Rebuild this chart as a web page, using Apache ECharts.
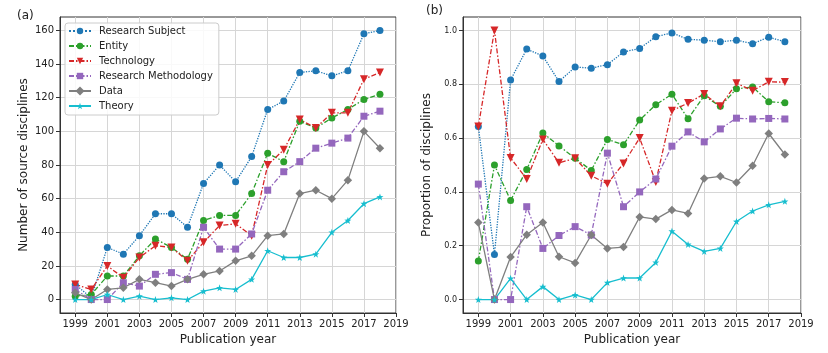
<!DOCTYPE html>
<html>
<head>
<meta charset="utf-8">
<script src="https://cdn.jsdelivr.net/npm/echarts@6/dist/echarts.min.js"></script>
<style>
  html, body { margin: 0; padding: 0; background: #fff; }
  #chart { width: 828px; height: 353px; }
</style>
</head>
<body>
<div id="chart"></div>
<script>
var years = [1999, 2000, 2001, 2002, 2003, 2004, 2005, 2006, 2007, 2008,
             2009, 2010, 2011, 2012, 2013, 2014, 2015, 2016, 2017, 2018];
var xTicks = [1999, 2001, 2003, 2005, 2007, 2009, 2011, 2013, 2015, 2017, 2019];
var countTicks = [0, 20, 40, 60, 80, 100, 120, 140, 160];
var propTicks = [0, 0.2, 0.4, 0.6, 0.8, 1.0];

// (a) number of source disciplines
var subjectCount = [9, 1, 31, 27, 38, 51, 51, 43, 69, 80, 70, 85, 113, 118, 135, 136, 133, 136, 158, 160];
var entityCount = [2, 3, 14, 14, 26, 36, 31, 24, 47, 50, 50, 63, 87, 82, 106, 102, 108, 113, 119, 122];
var techCount = [9, 6, 20, 13, 25, 32, 31, 23, 34, 44, 45, 38, 80, 89, 107, 102, 111, 111, 131, 135];
var methodCount = [6, 0, 0, 10, 8, 15, 16, 12, 43, 30, 30, 39, 65, 76, 82, 90, 93, 96, 109, 112];
var dataCount = [4, 0, 6, 7, 12, 10, 8, 12, 15, 17, 23, 26, 38, 39, 63, 65, 60, 71, 100, 90];
var theoryCount = [0, 0, 3, 0, 2, 0, 1, 0, 5, 7, 6, 12, 29, 25, 25, 27, 40, 47, 57, 61];

// (b) proportion of disciplines
var subjectProp = [0.643, 0.167, 0.816, 0.931, 0.905, 0.81, 0.864, 0.86, 0.873, 0.92, 0.933, 0.977, 0.991, 0.967, 0.964, 0.958, 0.964, 0.951, 0.975, 0.958];
var entityProp = [0.143, 0.5, 0.368, 0.483, 0.619, 0.571, 0.525, 0.48, 0.595, 0.575, 0.667, 0.724, 0.763, 0.672, 0.757, 0.718, 0.783, 0.79, 0.735, 0.731];
var techProp = [0.643, 1.0, 0.526, 0.448, 0.595, 0.508, 0.525, 0.46, 0.43, 0.506, 0.6, 0.437, 0.702, 0.73, 0.764, 0.718, 0.804, 0.776, 0.809, 0.808];
var methodProp = [0.429, 0, 0, 0.345, 0.19, 0.238, 0.271, 0.24, 0.544, 0.345, 0.4, 0.448, 0.57, 0.623, 0.586, 0.634, 0.674, 0.671, 0.673, 0.671];
var dataProp = [0.286, 0, 0.158, 0.241, 0.286, 0.159, 0.136, 0.24, 0.19, 0.195, 0.307, 0.299, 0.333, 0.32, 0.45, 0.458, 0.435, 0.497, 0.617, 0.539];
var theoryProp = [0, 0, 0.079, 0, 0.048, 0, 0.017, 0, 0.063, 0.08, 0.08, 0.138, 0.254, 0.205, 0.179, 0.19, 0.29, 0.329, 0.352, 0.365];

var FONT = 'DejaVu Sans';
var dashDot = [5, 2, 1.5, 2];
var starPath = 'path://M0,-10L2.35,-3.24L9.51,-3.09L3.8,1.24L5.88,8.09L0,4L-5.88,8.09L-3.8,1.24L-9.51,-3.09L-2.35,-3.24Z';

var styles = [
  { name: 'Research Subject', color: '#1f77b4', line: 'dotted', symbol: 'circle', size: 7, rotate: 0 },
  { name: 'Entity', color: '#2ca02c', line: dashDot, symbol: 'circle', size: 7, rotate: 0 },
  { name: 'Technology', color: '#d62728', line: dashDot, symbol: 'triangle', size: 8, rotate: 180 },
  { name: 'Research Methodology', color: '#9467bd', line: dashDot, symbol: 'rect', size: 7, rotate: 0 },
  { name: 'Data', color: '#7f7f7f', line: 'solid', symbol: 'rect', size: 6, rotate: 45 },
  { name: 'Theory', color: '#17becf', line: 'solid', symbol: starPath, size: 7, rotate: 0 }
];
var counts = [subjectCount, entityCount, techCount, methodCount, dataCount, theoryCount];
var props = [subjectProp, entityProp, techProp, methodProp, dataProp, theoryProp];

function pairs(vals) {
  return years.map(function (y, i) { return [y, vals[i]]; });
}

function makeSeries(st, vals, idx) {
  return {
    name: st.name,
    type: 'line',
    xAxisIndex: idx,
    yAxisIndex: idx,
    data: pairs(vals),
    symbol: st.symbol,
    symbolSize: st.size,
    symbolRotate: st.rotate,
    showSymbol: true,
    animation: false,
    itemStyle: { color: st.color },
    lineStyle: { color: st.color, width: 1.3, type: st.line }
  };
}

var series = [];
styles.forEach(function (st, i) { series.push(makeSeries(st, counts[i], 0)); });
styles.forEach(function (st, i) { series.push(makeSeries(st, props[i], 1)); });

function xAxis(gridIndex) {
  return {
    type: 'value',
    gridIndex: gridIndex,
    min: 1998.05,
    max: 2019,
    name: 'Publication year',
    nameLocation: 'middle',
    nameGap: 17,
    nameTextStyle: { fontFamily: FONT, fontSize: 12, color: '#222' },
    axisLine: { show: true, onZero: false, lineStyle: { color: '#333' } },
    axisTick: { show: true, length: 4, customValues: xTicks, lineStyle: { color: '#333' } },
    axisLabel: { customValues: xTicks, margin: 6, fontFamily: FONT, fontSize: 10, color: '#222',
                 formatter: function (v) { return String(v); } },
    splitLine: { show: true, lineStyle: { color: '#d6d6d6' } }
  };
}

function yAxis(gridIndex, min, max, ticks, name, fs, fmt, gap) {
  return {
    type: 'value',
    gridIndex: gridIndex,
    min: min,
    max: max,
    name: name,
    nameLocation: 'middle',
    nameGap: gap,
    nameTextStyle: { fontFamily: FONT, fontSize: 12, color: '#222' },
    axisLine: { show: true, onZero: false, lineStyle: { color: '#333' } },
    axisTick: { show: true, length: 4, customValues: ticks, lineStyle: { color: '#333' } },
    axisLabel: { customValues: ticks, margin: 6, fontFamily: FONT, fontSize: fs, color: '#222', formatter: fmt },
    splitLine: { show: true, lineStyle: { color: '#d6d6d6' } }
  };
}

var option = {
  backgroundColor: '#fff',
  animation: false,
  title: [
    { text: '(a)', left: 12, top: 5, textStyle: { fontFamily: FONT, fontSize: 12, fontWeight: 'normal', color: '#222' } },
    { text: '(b)', left: 421, top: 0, textStyle: { fontFamily: FONT, fontSize: 12, fontWeight: 'normal', color: '#222' } }
  ],
  legend: {
    orient: 'vertical',
    left: 65,
    top: 23,
    padding: [2, 6, 3, 3],
    itemGap: 3,
    itemWidth: 22,
    itemHeight: 8,
    borderColor: '#cccccc',
    borderWidth: 1,
    borderRadius: 3,
    backgroundColor: 'rgba(255,255,255,0.85)',
    textStyle: { fontFamily: FONT, fontSize: 10, color: '#222', lineHeight: 12, padding: [0, 0, 0, 3] },
    data: styles.map(function (s) { return s.name; })
  },
  grid: [
    { left: 60, top: 17, width: 336, height: 296, show: true, borderColor: '#333', borderWidth: 1 },
    { left: 463, top: 17, width: 338, height: 296, show: true, borderColor: '#333', borderWidth: 1 }
  ],
  xAxis: [xAxis(0), xAxis(1)],
  yAxis: [
    yAxis(0, -8, 168, countTicks, 'Number of source disciplines', 10, function (v) { return String(v); }, 30),
    yAxis(1, -0.05, 1.05, propTicks, 'Proportion of disciplines', 8, function (v) { return v.toFixed(1); }, 30)
  ],
  series: series
};

var chart = echarts.init(document.getElementById('chart'));
chart.setOption(option);
</script>
</body>
</html>
